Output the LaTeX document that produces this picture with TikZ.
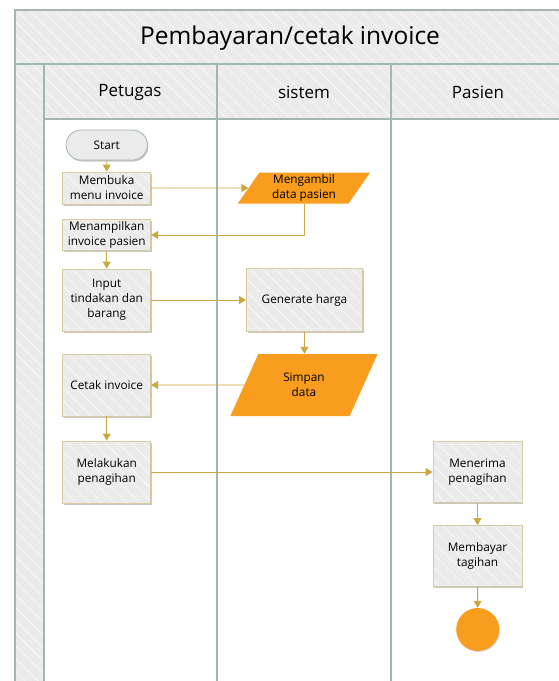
\documentclass[tikz,border=0pt]{standalone}
\usepackage{fontspec}
\setmainfont{Open Sans}
\usetikzlibrary{arrows.meta,shapes.geometric,shapes.misc,patterns.meta,shadows}
\definecolor{lanefill}{HTML}{EBEBEB}
\definecolor{laneline}{HTML}{A5B5AF}
\definecolor{boxline}{HTML}{D5CBA4}
\definecolor{orangefill}{HTML}{F89D1E}
\definecolor{flowline}{HTML}{CBA83F}
\tikzset{
  hatch/.style={preaction={fill=lanefill},
    pattern={Lines[angle=-45,distance=9pt,line width=0.6pt]},pattern color=white!75!lanefill},
  lane/.style={draw=laneline,line width=1.6pt},
  boxshadow/.style={drop shadow={shadow xshift=1pt,shadow yshift=-1.5pt,opacity=0.22,fill=black}},
  procbox/.style={boxshadow,hatch,draw=boxline,line width=0.8pt,align=center,
    font=\fontsize{11.8}{15}\selectfont,inner sep=1pt,minimum width=88pt},
  databox/.style={trapezium,trapezium stretches=true,trapezium left angle=60,
    trapezium right angle=120,fill=orangefill,draw=none,align=center,
    font=\fontsize{11.8}{15}\selectfont,inner sep=0pt},
  startbox/.style={boxshadow,rounded rectangle,fill=lanefill,draw=laneline,line width=0.8pt,
    font=\fontsize{11.8}{14}\selectfont,minimum width=88pt,minimum height=30pt},
  flow/.style={draw=flowline,line width=0.9pt,-{Triangle[width=8pt,length=7pt]}},
  title/.style={font=\fontsize{24.5}{28}\selectfont},
  header/.style={font=\fontsize{17}{20}\selectfont}
}
\begin{document}
\begin{tikzpicture}[x=1pt,y=-1pt]
\useasboundingbox (0,0) rectangle (559,681);
\begin{scope}
\clip (0,0) rectangle (559,681);
% pool frame, title band, side band and lane headers
\path[hatch] (15,10) rectangle (575,64);
\path[hatch] (15,64) rectangle (44,700);
\path[hatch] (44,64) rectangle (575,119);
\draw[lane] (15,700) -- (15,10) -- (575,10);
\draw[lane] (15,64) -- (575,64);
\draw[lane] (44,64) -- (44,700);
\draw[lane] (44,119) -- (575,119);
\draw[lane] (217,64) -- (217,700);
\draw[lane] (391,64) -- (391,700);
\end{scope}
\node[title] (pool) at (290,38.5) {Pembayaran/cetak invoice};
\node[header] (hpetugas) at (130,92) {Petugas};
\node[header] (hsistem) at (304,92) {sistem};
\node[header] (hpasien) at (478,92) {Pasien};

% Petugas lane
\node[startbox] (start) at (106.7,145) {Start};
\node[procbox,minimum height=32pt] (membuka) at (106.7,188) {Membuka\\menu invoice};
\node[procbox,minimum height=31pt] (menampilkan) at (106.7,235) {Menampilkan\\invoice pasien};
\node[procbox,minimum height=62pt] (input) at (106.7,300) {Input\\tindakan dan\\barang};
\node[procbox,minimum height=62pt] (cetak) at (106.7,385) {Cetak invoice};
\node[procbox,minimum height=62pt] (tagih) at (106.7,472) {Melakukan\\penagihan};

% sistem lane
\node[databox,minimum width=133pt,minimum height=31pt] (ambil) at (304,188) {Mengambil\\data pasien};
\node[procbox,minimum width=116pt,minimum height=63pt] (harga) at (304.5,300) {Generate harga};
\node[databox,minimum width=148pt,minimum height=62pt,trapezium left angle=62,trapezium right angle=118] (simpan) at (304,385) {Simpan\\data};

% Pasien lane
\node[procbox,minimum width=89pt,minimum height=61pt] (terima) at (477.5,472) {Menerima\\penagihan};
\node[procbox,minimum width=89pt,minimum height=61pt] (bayar) at (477.5,556) {Membayar\\tagihan};
\node[circle,fill=orangefill,minimum size=43pt,inner sep=0pt,
  drop shadow={shadow xshift=0.8pt,shadow yshift=-1pt,opacity=0.15,fill=black}] (end) at (477.7,629.5) {};

% flows
\draw[flow] (start) -- (membuka);
\draw[flow] (membuka) -- (ambil);
\draw[flow] (ambil.south -| ambil.center) |- (menampilkan.east);
\draw[flow] (menampilkan) -- (input);
\draw[flow] (input) -- (harga);
\draw[flow] (harga.south) -- (harga.south |- simpan.north);
\draw[flow] (simpan) -- (cetak);
\draw[flow] (cetak) -- (tagih);
\draw[flow] (tagih) -- (terima);
\draw[flow] (terima) -- (bayar);
\draw[flow] (bayar) -- (end);
\end{tikzpicture}
\end{document}
